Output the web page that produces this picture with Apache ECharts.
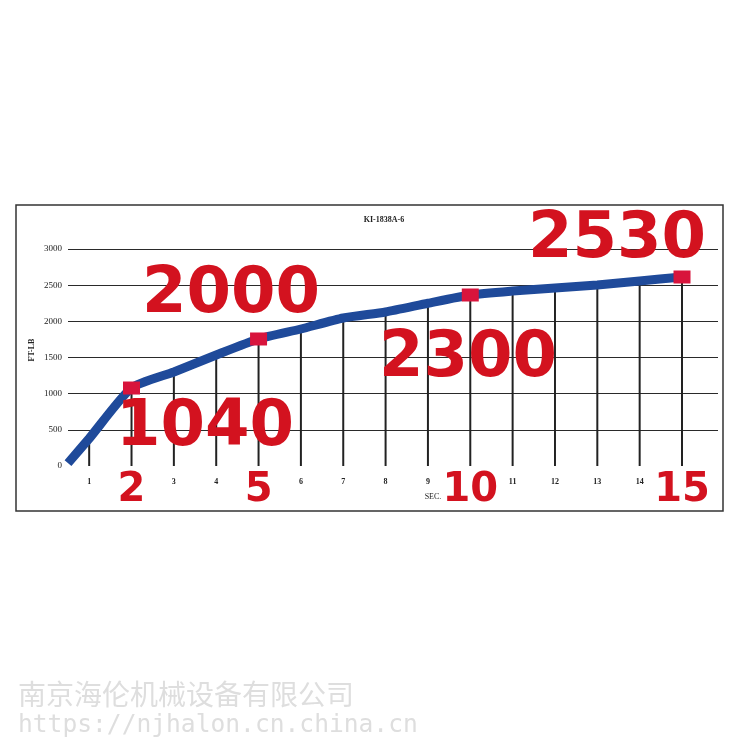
<!DOCTYPE html>
<html><head><meta charset="utf-8">
<script src="https://cdn.jsdelivr.net/npm/echarts@6/dist/echarts.min.js"></script>
<style>html,body{margin:0;padding:0;background:#fff}#c{width:750px;height:750px}</style>
</head><body><div id="c"></div>
<script>
const chartTitle = 'KI-1838A-6';
const xName = 'SEC.';
const yName = 'FT-LB';
const seconds = [0.5, 1, 2, 3, 4, 5, 6, 7, 8, 9, 10, 11, 12, 13, 14, 15];
const torque  = [40, 380, 1078, 1300, 1535, 1756, 1894, 2046, 2129, 2250, 2364, 2419, 2461, 2502, 2558, 2613];
const markedSeconds = [2, 5, 10, 15];
const xTicks = [1, 2, 3, 4, 5, 6, 7, 8, 9, 10, 11, 12, 13, 14, 15];
const yTicks = [0, 500, 1000, 1500, 2000, 2500, 3000];
const callouts = ['2530', '2000', '2300', '1040'];
const watermark = ['南京海伦机械设备有限公司', 'https://njhalon.cn.china.cn'];

const RED = '#d3121f';
const curve = seconds.map((s, i) => [s, torque[i]]);
const drops = curve.filter(p => Number.isInteger(p[0]));
const marks = curve.filter(p => markedSeconds.includes(p[0]));

const calloutPos = [[617, 240], [231, 295], [468, 359], [205, 428]];

const chart = echarts.init(document.getElementById('c'), null, {renderer: 'canvas'});
chart.setOption({
  backgroundColor: '#fff',
  animation: false,
  grid: {left: 68, right: 32, top: 249, bottom: 284, containLabel: false},
  xAxis: {
    type: 'value', min: 0.5, max: 15.85,
    axisLine: {show: false}, axisTick: {show: false}, splitLine: {show: false},
    axisLabel: {
      customValues: xTicks, margin: 11,
      formatter: v => markedSeconds.includes(v) ? '{big|' + v + '}' : '{s|' + v + '}',
      rich: {
        big: {fontFamily: 'DejaVu Sans', fontWeight: 'bold', fontSize: 40, color: RED, lineHeight: 28},
        s: {fontFamily: 'Liberation Serif', fontWeight: 'bold', fontSize: 8, color: '#222', lineHeight: 10}
      }
    }
  },
  yAxis: {
    type: 'value', min: yTicks[0], max: yTicks[yTicks.length - 1], interval: 500,
    axisLine: {show: false}, axisTick: {show: false},
    splitLine: {show: true, showMinLine: false, lineStyle: {color: '#2a2a2a', width: 1.2}},
    axisLabel: {fontFamily: 'Liberation Serif', fontSize: 9, color: '#222', margin: 6,
      formatter: v => String(v)}
  },
  series: [
    {type: 'bar', data: drops, barWidth: 2, itemStyle: {color: '#222'}, z: 1, silent: true},
    {type: 'line', data: curve, smooth: 0.2, showSymbol: false, symbol: 'none',
     lineStyle: {color: '#1f4a9a', width: 9}, z: 3},
    {type: 'scatter', data: marks, symbol: 'rect', symbolSize: [17, 13],
     itemStyle: {color: '#d8143c', opacity: 1}, z: 4}
  ],
  graphic: [
    {type: 'rect', shape: {x: 16, y: 205, width: 707, height: 306},
     style: {fill: 'none', stroke: '#333', lineWidth: 1.5}, z: 0},
    {type: 'text', x: 384, y: 220, style: {text: chartTitle, align: 'center', verticalAlign: 'middle',
      font: 'bold 8px "Liberation Serif"', fill: '#222'}},
    {type: 'text', x: 32, y: 350, rotation: Math.PI / 2, style: {text: yName, align: 'center', verticalAlign: 'middle',
      font: 'bold 8px "Liberation Serif"', fill: '#222'}},
    {type: 'text', x: 433, y: 497, style: {text: xName, align: 'center', verticalAlign: 'middle',
      font: '8px "Liberation Serif"', fill: '#222'}},
    ...callouts.map((t, i) => ({type: 'text', x: calloutPos[i][0], y: calloutPos[i][1], z: 10,
      style: {text: t, align: 'center', verticalAlign: 'middle', font: 'bold 64px "DejaVu Sans"', fill: RED}})),
    {type: 'text', x: 18, y: 694, style: {text: watermark[0], align: 'left', verticalAlign: 'middle',
      font: '28px "Noto Sans CJK SC"', fill: '#dedede'}},
    {type: 'text', x: 18, y: 726, style: {text: watermark[1], align: 'left', verticalAlign: 'middle',
      font: '24.6px "DejaVu Sans Mono"', fill: '#dedede'}}
  ]
});
</script>
</body></html>
